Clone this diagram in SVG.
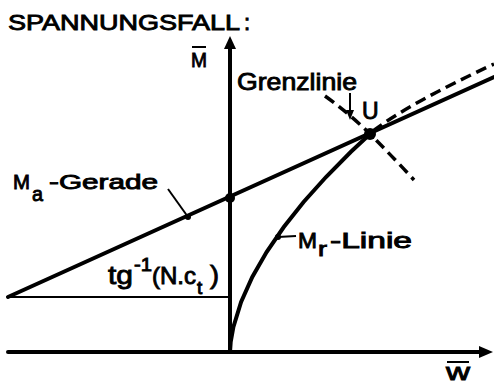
<svg xmlns="http://www.w3.org/2000/svg" width="494" height="385" viewBox="0 0 494 385">
<style>
text{font-family:"Liberation Sans","DejaVu Sans",sans-serif;fill:#000;stroke:#000;stroke-width:0.9}
.thick{stroke:#000;stroke-width:4;fill:none;stroke-linecap:round}
.thin{stroke:#000;stroke-width:2;fill:none}
.dash{stroke:#000;stroke-width:3.5;fill:none;stroke-dasharray:11 6}
</style>
<rect width="494" height="385" fill="#fff"/>
<g id="axes">
<line class="thick" x1="230" y1="352" x2="230" y2="46" stroke-linecap="butt"/>
<polygon points="230,36 224,49 236,49" fill="#000"/>
<line class="thick" x1="8" y1="352" x2="482" y2="352"/>
<polygon points="493,352 479,346 479,358" fill="#000"/>
</g>
<g id="curves">
<line class="thin" x1="8" y1="297" x2="230" y2="297"/>
<line class="thick" x1="8" y1="297" x2="494" y2="77"/>
<polyline class="thick" points="230,352 230.7,342 233.4,327 241.1,302 252.3,277 266.6,252 283.8,227 303.6,202 326,177 350.7,152 370,134"/>
<path class="dash" d="M373,131 Q410,103 494,64"/>
<path class="dash" d="M325,96 Q350,114 370,134 Q392,156 414,180"/>
<line class="thin" x1="168" y1="189" x2="188" y2="217"/>
<circle cx="188" cy="217" r="3"/>
<line class="thin" x1="278" y1="237" x2="296" y2="236"/>
<circle cx="278" cy="237" r="3"/>
<line class="thin" x1="350" y1="93" x2="350" y2="112"/>
<polygon points="350,120 346,110 354,110" fill="#000"/>
<circle cx="230" cy="198" r="5"/>
<circle cx="370" cy="134" r="6"/>
</g>
<g id="labels">
<text x="8" y="30" font-size="22" textLength="232" lengthAdjust="spacingAndGlyphs">SPANNUNGSFALL</text>
<text x="244" y="30" font-size="22">:</text>
<text x="191" y="67" font-size="21" textLength="16" lengthAdjust="spacingAndGlyphs">M</text>
<line class="thin" x1="192" y1="47" x2="206" y2="47" stroke-width="2.5"/>
<text x="237" y="90" font-size="24" textLength="120" lengthAdjust="spacingAndGlyphs">Grenzlinie</text>
<text x="362" y="119" font-size="23">U</text>
<text x="13" y="189" font-size="21" textLength="17" lengthAdjust="spacingAndGlyphs">M</text>
<text x="32" y="201" font-size="21" textLength="11" lengthAdjust="spacingAndGlyphs">a</text>
<text x="49" y="189" font-size="21" textLength="109" lengthAdjust="spacingAndGlyphs">-Gerade</text>
<text x="108" y="284" font-size="26" textLength="25" lengthAdjust="spacingAndGlyphs">tg</text>
<text x="134" y="271" font-size="19" textLength="18" lengthAdjust="spacingAndGlyphs">-1</text>
<text x="152" y="284" font-size="24">(N.c</text>
<text x="197" y="294" font-size="19">t</text>
<text x="210" y="284" font-size="26" textLength="9" lengthAdjust="spacingAndGlyphs">)</text>
<text x="298" y="248" font-size="22" textLength="19" lengthAdjust="spacingAndGlyphs">M</text>
<text x="318" y="256" font-size="20" textLength="9" lengthAdjust="spacingAndGlyphs">r</text>
<text x="330" y="248" font-size="22" textLength="82" lengthAdjust="spacingAndGlyphs">-Linie</text>
<text x="446" y="380" font-size="24" textLength="24" lengthAdjust="spacingAndGlyphs">w</text>
<line class="thin" x1="447" y1="362" x2="469" y2="362" stroke-width="2.5"/>
</g>
</svg>
